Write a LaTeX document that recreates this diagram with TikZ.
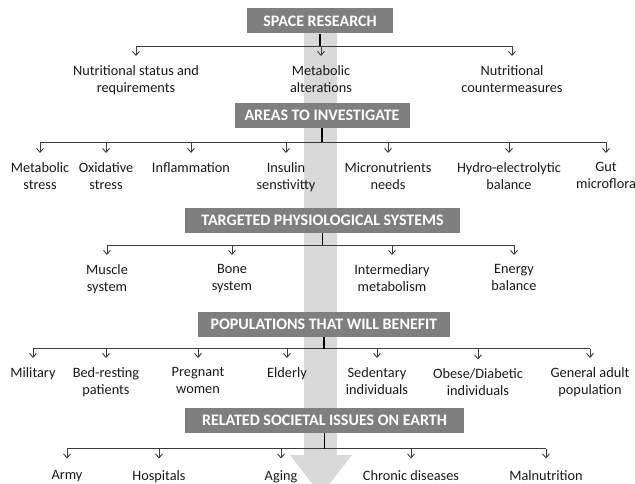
\documentclass[tikz,border=0pt]{standalone}
\usepackage{fontspec}
\setmainfont{Carlito}
\usetikzlibrary{arrows.meta}
\definecolor{headgray}{RGB}{127,127,127}
\definecolor{bandgray}{RGB}{217,217,217}
\definecolor{linegray}{RGB}{60,60,60}
\begin{document}
\begin{tikzpicture}[x=1pt,y=-1pt,
  head/.style={fill=headgray, text=white, font=\bfseries\fontsize{16}{18}\selectfont,
    minimum height=25pt, inner sep=0pt},
  item/.style={align=center, anchor=north, inner sep=0pt,
    font=\fontsize{14.3}{17}\selectfont, text=black!90},
  stem/.style={line width=1.6pt, black},
  bar/.style={line width=0.9pt, linegray},
  arr/.style={line width=0.9pt, linegray, shorten >=9pt,
    -{Straight Barb[length=4pt,width=7pt,line width=0.9pt]}},
  band/.style={fill=bandgray}
]
\useasboundingbox (0,0) rectangle (635,484);
\clip (0,0) rectangle (635,484);

% background big arrow
\fill[band] (304,21) rectangle (337,455);
\fill[band] (290,455) -- (352,455) -- (321,495) -- cycle;

% headers
\node[head, minimum width=146pt] (h1) at (320,21) {SPACE RESEARCH};
\node[head, minimum width=175pt] (h2) at (322,115.5) {AREAS TO INVESTIGATE};
\node[head, minimum width=275pt] (h3) at (322.5,220.5) {TARGETED PHYSIOLOGICAL SYSTEMS};
\node[head, minimum width=252pt] (h4) at (324,324.5) {POPULATIONS THAT WILL BENEFIT};
\node[head, minimum width=279pt] (h5) at (324.5,420.5) {RELATED SOCIETAL ISSUES ON EARTH};

% bar coordinates
\coordinate (b1) at (h1.south |- 0,46);
\coordinate (b2) at (h2.south |- 0,142);
\coordinate (b3) at (h3.south |- 0,245);
\coordinate (b4) at (h4.south |- 0,348.5);
\coordinate (b5) at (h5.south |- 0,448.5);

% level 1 items
\node[item] (a1) at (136,65) {Nutritional status and\\requirements};
\node[item] (a2) at (321,65) {Metabolic\\alterations};
\node[item] (a3) at (512,65) {Nutritional\\countermeasures};

% level 2 items
\node[item] (i1) at (40,162) {Metabolic\\stress};
\node[item] (i2) at (106,162) {Oxidative\\stress};
\node[item] (i3) at (191,162) {Inflammation};
\node[item] (i4) at (286,162) {Insulin\\senstivitty};
\node[item] (i5) at (388,162) {Micronutrients\\needs};
\node[item] (i6) at (509,162) {Hydro-electrolytic\\balance};
\node[item] (i7) at (606,162) {Gut\\microflora};

% level 3 items
\node[item] (s1) at (107,264) {Muscle\\system};
\node[item] (s2) at (232,264) {Bone\\system};
\node[item] (s3) at (392,264) {Intermediary\\metabolism};
\node[item] (s4) at (514,264) {Energy\\balance};

% level 4 items
\node[item] (p1) at (33,367) {Military};
\node[item] (p2) at (106,367) {Bed-resting\\patients};
\node[item] (p3) at (198,367) {Pregnant\\women};
\node[item] (p4) at (287,367) {Elderly};
\node[item] (p5) at (377,367) {Sedentary\\individuals};
\node[item] (p6) at (478,368.5) {Obese/Diabetic\\individuals};
\node[item] (p7) at (590,367) {General adult\\population};

% level 5 items
\node[item] (e1) at (67,470) {Army};
\node[item] (e2) at (159,470) {Hospitals};
\node[item] (e3) at (281,470) {Aging};
\node[item] (e4) at (411,470) {Chronic diseases};
\node[item] (e5) at (546,470) {Malnutrition};

% horizontal bars
\draw[bar] (b1 -| a1.north) -- (b1 -| a3.north);
\draw[bar] (b2 -| i1.north) -- (b2 -| i7.north);
\draw[bar] (b3 -| s1.north) -- (b3 -| s4.north);
\draw[bar] (b4 -| p1.north) -- (b4 -| p7.north);
\draw[bar] (b5 -| e1.north) -- (b5 -| e5.north);

% stems
\draw[stem] (h1.south) -- (b1);
\draw[stem] (h2.south) -- (b2);
\draw[stem] (h3.south) -- (b3);
\draw[stem] (h4.south) -- (b4);
\draw[stem] (h5.south) -- (b5);

% arrows
\foreach \n in {a1,a2,a3} \draw[arr] (b1 -| \n.north) -- (\n.north);
\foreach \n in {i1,i2,i3,i4,i5,i6,i7} \draw[arr] (b2 -| \n.north) -- (\n.north);
\foreach \n in {s1,s2,s3,s4} \draw[arr] (b3 -| \n.north) -- (\n.north);
\foreach \n in {p1,p2,p3,p4,p5,p6,p7} \draw[arr] (b4 -| \n.north) -- (\n.north);
\foreach \n in {e1,e2,e3,e4,e5} \draw[arr, shorten >=11.5pt] (b5 -| \n.north) -- (\n.north);
\end{tikzpicture}
\end{document}
